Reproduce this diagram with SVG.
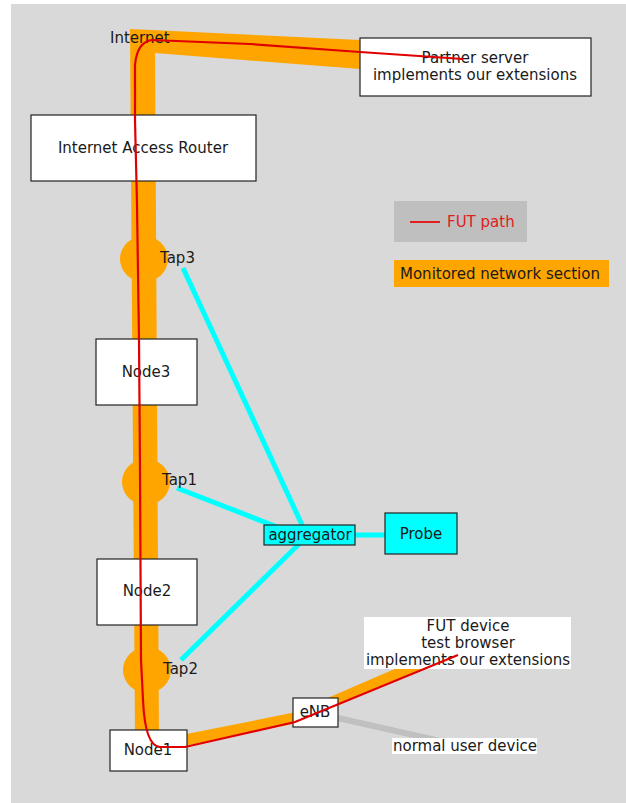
<svg xmlns="http://www.w3.org/2000/svg" width="626" height="803" viewBox="0 0 626 803">
<style>
text{font-family:"DejaVu Sans","Liberation Sans",sans-serif;font-size:15px;fill:#1a1a1a}
.c{text-anchor:middle}
.box{fill:#fff;stroke:#222;stroke-width:1.2}
.tap{fill:#ffa500}
.cy{stroke:#00ffff;stroke-width:5;fill:none}
</style>
<rect x="11" y="4" width="615" height="799" fill="#d9d9d9"/>
<g id="connectors">
<polygon points="130,29 360,40 360,69 155,53 159,736 135,736" fill="#ffa500"/>
<polyline points="180,741 295,718 420,664" fill="none" stroke="#ffa500" stroke-width="11"/>
<line x1="338" y1="718" x2="440" y2="741" stroke="#c0c0c0" stroke-width="6"/>
<line class="cy" x1="183" y1="268" x2="303" y2="527"/>
<line class="cy" x1="177" y1="488" x2="285" y2="530"/>
<line class="cy" x1="181" y1="660" x2="300" y2="543"/>
<line class="cy" x1="350" y1="535" x2="386" y2="535"/>
</g>
<g id="tap3"><ellipse class="tap" cx="144" cy="259" rx="24" ry="23"/><text x="160" y="263">Tap3</text></g>
<g id="tap1"><ellipse class="tap" cx="146" cy="482" rx="24" ry="23"/><text x="162" y="485">Tap1</text></g>
<g id="tap2"><ellipse class="tap" cx="147" cy="670" rx="24" ry="23"/><text x="163" y="674">Tap2</text></g>
<g id="internet"><text x="110" y="43">Internet</text></g>
<g id="partner"><rect class="box" x="360" y="38" width="231" height="58"/><text class="c" x="475" y="63">Partner server</text><text class="c" x="475" y="80">implements our extensions</text></g>
<g id="router"><rect class="box" x="31" y="115" width="225" height="66"/><text class="c" x="143" y="153">Internet Access Router</text></g>
<g id="node3"><rect class="box" x="96" y="339" width="101" height="66"/><text class="c" x="146" y="377">Node3</text></g>
<g id="node2"><rect class="box" x="97" y="559" width="100" height="66"/><text class="c" x="147" y="596">Node2</text></g>
<g id="node1"><rect class="box" x="110" y="730" width="77" height="41"/><text class="c" x="148" y="755">Node1</text></g>
<g id="aggregator"><rect x="264" y="525" width="91" height="20" fill="#00ffff" stroke="#222" stroke-width="1.2"/><text class="c" x="310" y="540">aggregator</text></g>
<g id="probe"><rect x="385" y="513" width="72" height="41" fill="#00ffff" stroke="#222" stroke-width="1.2"/><text class="c" x="421" y="539">Probe</text></g>
<g id="enb"><rect class="box" x="293" y="698" width="45" height="29"/><text class="c" x="315" y="717">eNB</text></g>
<g id="fut"><rect x="364" y="617" width="207" height="52" fill="#fff"/><text class="c" x="468" y="631">FUT device</text><text class="c" x="468" y="648">test browser</text><text class="c" x="468" y="665">implements our extensions</text></g>
<g id="normal"><rect x="392" y="738" width="145" height="16" fill="#fff"/><text class="c" x="465" y="751">normal user device</text></g>
<g id="fut-path"><path d="M463,59 L360,52 L250,44 L152,40 Q137,42 135,65 L135,120 L137,205 L139,340 L140,470 L141,660 L143,700 Q145,746 160,747 L185,747 L295,722 L458,655" fill="none" stroke="#e00000" stroke-width="2.2"/></g>
<g id="legend">
<rect x="394" y="201" width="133" height="41" fill="#bfbfbf"/>
<line x1="410" y1="222" x2="440" y2="222" stroke="#e02020" stroke-width="2"/>
<text x="447" y="227" style="fill:#e02020">FUT path</text>
<rect x="394" y="260" width="215" height="27" fill="#ffa500"/>
<text x="400" y="279">Monitored network section</text>
</g>
</svg>
